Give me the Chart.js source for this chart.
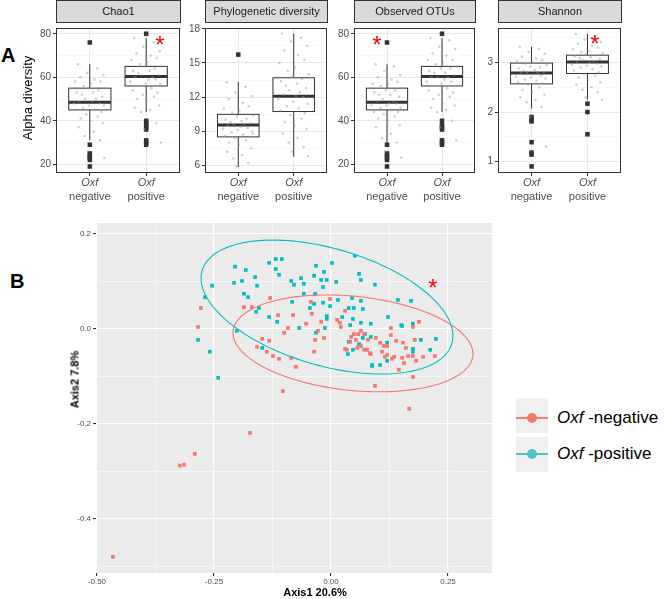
<!DOCTYPE html>
<html><head><meta charset="utf-8">
<script src="https://cdn.jsdelivr.net/npm/chart.js@4.4.1/dist/chart.umd.min.js"></script>
<style>
body{margin:0;background:#fff;width:668px;height:599px;position:relative;overflow:hidden;font-family:"Liberation Sans",Arial,sans-serif}
.abs{position:absolute}
canvas{position:absolute}
.strip{position:absolute;top:0;height:23px;background:#D9D9D9;border:1px solid #333;box-sizing:border-box;font-size:11px;color:#1A1A1A;text-align:center;line-height:21px;white-space:nowrap}
.star{position:absolute;width:20px;text-align:center;color:#FF0000;font-size:24px;line-height:24px}
</style></head><body>
<canvas id="f1" width="162" height="190" style="left:22px;top:20px"></canvas>
<canvas id="f2" width="160" height="190" style="left:171px;top:20px"></canvas>
<canvas id="f3" width="159" height="190" style="left:320px;top:20px"></canvas>
<canvas id="f4" width="161" height="190" style="left:464px;top:20px"></canvas>
<canvas id="pcoa" width="460" height="380" style="left:40px;top:215px"></canvas>

<div class="strip" style="left:56px;width:125px">Chao1</div>
<div class="strip" style="left:205px;width:123px">Phylogenetic diversity</div>
<div class="strip" style="left:354px;width:122px">Observed OTUs</div>
<div class="strip" style="left:498px;width:124px">Shannon</div>

<div class="abs" style="left:1px;top:45px;font-size:20px;line-height:20px;font-weight:bold">A</div>
<div class="abs" style="left:10px;top:271px;font-size:20px;line-height:20px;font-weight:bold">B</div>
<div class="abs" style="left:-32px;top:90px;width:120px;height:16px;line-height:16px;text-align:center;font-size:13px;transform:rotate(-90deg)">Alpha diversity</div>
<div class="abs" style="left:255px;top:586px;width:120px;line-height:13px;text-align:center;font-size:11px;font-weight:bold">Axis1 20.6%</div>
<div class="abs" style="left:15px;top:373px;width:120px;height:13px;line-height:13px;text-align:center;font-size:11px;font-weight:bold;transform:rotate(-90deg)">Axis2 7.8%</div>

<div class="star" style="left:150px;top:33px">*</div>
<div class="star" style="left:367px;top:33px">*</div>
<div class="star" style="left:585px;top:32px">*</div>
<div class="star" style="left:423px;top:276px">*</div>

<div class="abs" style="left:516px;top:398px;width:32px;height:35px;background:#F0F0F0"></div>
<div class="abs" style="left:516px;top:417px;width:32px;height:2px;background:#F07C70"></div>
<div class="abs" style="left:527px;top:413px;width:10px;height:10px;border-radius:5px;background:#F07C70"></div>
<div class="abs" style="left:557px;top:408px;font-size:17px;line-height:20px;color:#000;white-space:nowrap"><i>Oxf</i> -negative</div>
<div class="abs" style="left:516px;top:437px;width:32px;height:35px;background:#F0F0F0"></div>
<div class="abs" style="left:516px;top:453px;width:32px;height:2px;background:#4FC3C8"></div>
<div class="abs" style="left:527px;top:449px;width:10px;height:10px;border-radius:5px;background:#4FC3C8"></div>
<div class="abs" style="left:557px;top:444px;font-size:17px;line-height:20px;color:#000;white-space:nowrap"><i>Oxf</i> -positive</div>

<script>
// ---------- Panel A data ----------
const groupNames = ['negative','positive'];
const jitterX = [-0.21,0.13,-0.05,0.24,-0.17,0.08,0.19,-0.26,0.02,-0.11,0.27,-0.02,0.15,-0.23,0.06,-0.14,0.22,-0.08,0.11,-0.19,0.04,0.17,-0.28,-0.01,0.25,-0.12,0.09,-0.24,0.2,-0.06,0.14,-0.16,0.01,0.23,-0.2,0.07,-0.09,0.18,-0.03,0.26];

// box stats: [lower whisker, Q1, median, Q3, upper whisker]
const chaoNegBox = [31, 45, 48.5, 55, 66];
const chaoPosBox = [44, 56, 60.3, 65, 78];
const chaoNegOut = [76, 29, 25, 24, 23, 22, 19];
const chaoPosOut = [80, 40, 39, 38, 37, 36, 31, 30, 29];
const chaoNeg = [66,64,62,61,60,59,58,58,57,56,55,55,54,53,53,52,51,50,50,49,49,48,48,47,47,46,45,45,44,43,42,41,40,39,37,35,33,31,26,23];
const chaoPos = [78,76,74,72,71,70,69,68,67,66,65,65,64,63,63,62,61,61,60,60,59,59,58,57,57,56,55,54,53,52,51,50,49,47,46,45,44,39,36,30];

const phyNegBox = [5.85, 8.5, 9.55, 10.48, 13.35];
const phyPosBox = [6.75, 10.73, 12.08, 13.7, 17.6];
const phyNegOut = [15.74];
const phyPosOut = [];
const phyNeg = [13.3,12.9,12.4,12.1,11.8,11.5,11.2,11.0,10.8,10.6,10.4,10.3,10.1,10.0,9.9,9.8,9.7,9.6,9.6,9.5,9.4,9.3,9.2,9.1,9.0,8.9,8.7,8.6,8.5,8.4,8.2,8.0,7.8,7.5,7.2,6.9,6.6,6.2,5.9,8.8];
const phyPos = [17.6,17.2,16.9,16.5,16.1,15.7,15.3,15.0,14.6,14.3,14.0,13.8,13.6,13.4,13.2,13.0,12.8,12.6,12.4,12.2,12.1,12.0,11.8,11.6,11.4,11.2,11.0,10.8,10.6,10.4,10.1,9.8,9.5,9.2,8.8,8.4,8.0,7.6,7.2,6.8];

const obsNegBox = [30, 45, 48.5, 55, 66];
const obsPosBox = [44, 56, 60.3, 65, 78];
const obsNegOut = [76, 29, 25, 24, 23, 22, 19];
const obsPosOut = [80, 40, 38, 37, 36, 31, 30, 29];
const obsNeg = [66,65,63,61,60,59,58,57,57,56,55,54,54,53,52,52,51,50,49,49,48,48,47,47,46,46,45,44,44,43,42,41,40,38,37,34,32,30,26,23];
const obsPos = [78,77,74,73,71,70,68,68,67,66,65,64,64,63,62,62,61,60,60,60,59,58,58,57,56,56,55,54,53,52,51,50,48,47,46,45,44,40,37,31];

const shaNegBox = [2.07, 2.57, 2.79, 2.99, 3.32];
const shaPosBox = [2.25, 2.78, 3.01, 3.15, 3.58];
const shaNegOut = [1.90, 1.85, 1.81, 1.39, 1.18, 1.14, 0.90];
const shaPosOut = [2.17, 2.00, 1.55];
const shaNeg = [3.32,3.28,3.22,3.18,3.12,3.08,3.05,3.02,3.0,2.98,2.95,2.92,2.9,2.88,2.85,2.83,2.81,2.8,2.79,2.78,2.76,2.74,2.72,2.7,2.68,2.66,2.63,2.6,2.58,2.55,2.5,2.45,2.4,2.35,2.3,2.25,2.2,2.1,1.9,1.3];
const shaPos = [3.58,3.52,3.47,3.42,3.38,3.34,3.3,3.27,3.24,3.21,3.19,3.17,3.15,3.13,3.11,3.09,3.07,3.05,3.03,3.02,3.0,2.98,2.96,2.94,2.92,2.9,2.87,2.84,2.8,2.77,2.73,2.7,2.65,2.6,2.55,2.5,2.45,2.4,2.3,2.25];

const chaoTicks = [20,30,40,50,60,70,80], chaoMajor = [20,40,60,80];
const phyTicks = [6,7.5,9,10.5,12,13.5,15,16.5,18], phyMajor = [6,9,12,15,18];
const shaTicks = [1,1.5,2,2.5,3,3.5], shaMajor = [1,2,3];

// ---------- Panel B data ----------
const negAxis1 = [-0.278,-0.186,-0.169,-0.284,-0.147,-0.158,-0.173,-0.466,-0.323,-0.314,-0.291,0.167,-0.130,-0.113,-0.081,-0.041,-0.043,-0.002,0.030,0.013,0.019,0.021,-0.021,-0.053,-0.092,-0.100,-0.028,-0.034,-0.015,-0.132,-0.137,-0.124,-0.111,-0.085,-0.075,-0.036,-0.103,0.049,0.058,0.064,0.071,0.043,0.041,0.053,0.030,0.034,0.056,0.064,0.071,0.079,0.077,0.083,0.188,0.175,0.128,0.128,0.096,0.139,0.179,0.105,0.113,0.120,0.154,0.160,0.085,0.109,0.120,0.115,0.130,0.135,0.152,0.165,0.175,0.197,0.222,0.182,0.156,0.145,0.175,0.094];
const negAxis2 = [0.044,0.046,0.046,0.004,-0.021,-0.038,-0.219,-0.480,-0.288,-0.286,-0.263,-0.168,0.065,0.029,0.029,0.032,0.057,0.063,0.038,0.019,0.013,0.004,0.015,0.011,0.002,-0.008,-0.004,-0.023,-0.019,-0.025,-0.048,-0.057,-0.063,-0.061,-0.080,-0.048,-0.131,-0.011,-0.011,-0.004,-0.011,-0.017,-0.027,-0.023,-0.042,-0.044,-0.040,-0.036,-0.044,-0.023,-0.044,-0.051,0.015,0.004,0.002,-0.013,-0.019,-0.025,-0.023,-0.029,-0.036,-0.036,-0.029,-0.040,-0.053,-0.048,-0.055,-0.059,-0.063,-0.059,-0.061,-0.057,-0.057,-0.059,-0.057,-0.067,-0.072,-0.086,-0.101,-0.120];
const posAxis1 = [-0.205,-0.182,-0.162,-0.207,-0.190,-0.158,-0.254,-0.269,-0.186,-0.177,-0.160,-0.154,-0.201,-0.284,-0.259,-0.241,-0.147,-0.132,-0.118,-0.105,-0.118,-0.111,-0.085,-0.079,-0.064,-0.058,-0.032,-0.036,-0.015,-0.021,-0.009,-0.017,0.002,0.011,0.051,0.060,0.064,-0.058,-0.045,-0.036,-0.034,-0.017,-0.002,0.015,0.045,0.064,0.038,0.049,0.068,0.024,-0.009,-0.009,0.047,0.041,0.064,0.085,-0.083,-0.132,-0.115,-0.068,-0.032,-0.013,0.038,0.047,0.036,0.060,0.068,0.073,0.088,0.094,0.143,0.171,0.122,0.150,0.152,0.175,0.085,0.120,0.192,0.224,0.212,0.175,0.175,0.088,0.105,0.120];
const posAxis2 = [0.131,0.124,0.109,0.097,0.101,0.091,0.091,0.067,0.074,0.067,0.036,0.044,-0.004,-0.023,-0.048,-0.103,-0.040,0.139,0.147,0.147,0.126,0.114,0.101,0.093,0.107,0.095,0.133,0.112,0.120,0.103,0.103,0.088,0.139,0.099,0.154,0.116,0.103,0.074,0.044,0.053,0.074,0.055,0.048,0.061,0.065,0.059,0.044,0.044,0.042,0.025,0.027,0.021,0.021,0.008,0.013,0.011,0.057,0.025,0.015,0.002,-0.008,0.002,-0.027,-0.044,-0.053,-0.032,-0.019,-0.011,-0.078,0.093,0.061,0.059,0.025,0.008,0.006,0.011,-0.017,-0.029,-0.023,-0.021,-0.044,-0.042,-0.048,-0.076,-0.076,-0.067];
// 95% ellipses: [centre x, centre y, axis-u dx, axis-u dy, axis-v dx, axis-v dy] in data units
const negEllipse = [0.047, -0.0305, 0.2561, -0.0261, -0.0103, -0.0986];
const posEllipse = [-0.0085, 0.046, 0.2667, -0.0768, -0.0351, -0.1183];
const xTicksB = [-0.5,-0.375,-0.25,-0.125,0,0.125,0.25];
const yTicksB = [-0.5,-0.4,-0.3,-0.2,-0.1,0,0.1,0.2];

const RED = '#F8766D', CYAN = '#00BFC4';
Chart.defaults.font.family = '"Liberation Sans", Arial, sans-serif';

// ---------- plugins ----------
const boxPlugin = {
  id: 'boxes',
  beforeDatasetsDraw(chart, args, opts) {
    const xs = chart.scales.x, ys = chart.scales.y, ctx = chart.ctx;
    (opts.items || []).forEach(([xv, b]) => {
      const xc = xs.getPixelForValue(xv);
      const hw = xs.getPixelForValue(xv + 0.375) - xc;
      const yLo = ys.getPixelForValue(b[0]), yQ1 = ys.getPixelForValue(b[1]), yMed = ys.getPixelForValue(b[2]),
            yQ3 = ys.getPixelForValue(b[3]), yHi = ys.getPixelForValue(b[4]);
      ctx.save();
      ctx.strokeStyle = '#333'; ctx.lineWidth = 1;
      ctx.beginPath();
      ctx.moveTo(xc, yQ3); ctx.lineTo(xc, yHi);
      ctx.moveTo(xc, yQ1); ctx.lineTo(xc, yLo);
      ctx.stroke();
      ctx.fillStyle = '#fff';
      ctx.fillRect(xc - hw, yQ3, 2 * hw, yQ1 - yQ3);
      ctx.strokeRect(xc - hw, yQ3, 2 * hw, yQ1 - yQ3);
      ctx.lineWidth = 3;
      ctx.beginPath(); ctx.moveTo(xc - hw, yMed); ctx.lineTo(xc + hw, yMed); ctx.stroke();
      ctx.restore();
    });
  }
};
const xLabelPlugin = {
  id: 'xlabels',
  afterDraw(chart) {
    const xs = chart.scales.x, ctx = chart.ctx, b = chart.chartArea.bottom;
    ctx.save();
    ctx.textAlign = 'center'; ctx.textBaseline = 'middle'; ctx.fillStyle = '#4D4D4D';
    groupNames.forEach((g, i) => {
      const x = xs.getPixelForValue(i + 1);
      ctx.font = 'italic 11px "Liberation Sans", Arial, sans-serif';
      ctx.fillText('Oxf', x, b + 10);
      ctx.font = '11px "Liberation Sans", Arial, sans-serif';
      ctx.fillText(g, x, b + 24);
    });
    ctx.restore();
  }
};
const framePlugin = {
  id: 'frame',
  afterDraw(chart) {
    const a = chart.chartArea, ctx = chart.ctx;
    ctx.save(); ctx.strokeStyle = '#333'; ctx.lineWidth = 1;
    ctx.strokeRect(Math.round(a.left) + 0.5, Math.round(a.top) + 0.5, Math.round(a.right - a.left) - 1, Math.round(a.bottom - a.top) - 1);
    ctx.restore();
  }
};

function makeFacet(id, negVals, posVals, negBox, posBox, negOut, posOut, yMin, yMax, yTickVals, yMajorVals) {
  const jit = (vals, xc) => vals.map((v, i) => ({ x: xc + jitterX[i % jitterX.length], y: v }));
  const out = (vals, xc) => vals.map(v => ({ x: xc, y: v }));
  const isMajor = v => yMajorVals.includes(v);
  new Chart(document.getElementById(id), {
    type: 'scatter',
    data: { datasets: [
      { data: [...jit(negVals, 1), ...jit(posVals, 2)], pointRadius: 1.3, backgroundColor: 'rgba(150,150,150,0.45)', borderWidth: 0 },
      { data: [...out(negOut, 1), ...out(posOut, 2)], pointStyle: 'rect', pointRadius: 3.2, backgroundColor: '#333', borderWidth: 0 }
    ] },
    options: {
      responsive: false, animation: false, devicePixelRatio: 1,
      layout: { padding: { top: 2, right: 4, left: 0, bottom: 0 } },
      plugins: { legend: { display: false }, tooltip: { enabled: false },
        boxes: { items: [[1, negBox], [2, posBox]] } },
      scales: {
        x: { type: 'linear', min: 0.4, max: 2.6,
          afterBuildTicks: s => { s.ticks = [{ value: 1 }, { value: 2 }]; },
          afterFit: s => { s.height = 37; },
          ticks: { callback: () => '' },
          grid: { color: '#E8E8E8', tickLength: 3, tickColor: '#333' },
          border: { display: false } },
        y: { min: yMin, max: yMax,
          afterBuildTicks: s => { s.ticks = yTickVals.map(v => ({ value: v })); },
          afterFit: s => { s.width = 34; },
          ticks: { font: { size: 10 }, color: '#4D4D4D', padding: 2,
            callback: v => isMajor(v) ? String(v) : '' },
          grid: { color: c => isMajor(c.tick.value) ? '#E8E8E8' : '#F3F3F3',
                  lineWidth: c => isMajor(c.tick.value) ? 1 : 0.6,
                  tickColor: c => isMajor(c.tick.value) ? '#333' : 'rgba(0,0,0,0)', tickLength: 3 },
          border: { display: false } }
      }
    },
    plugins: [boxPlugin, xLabelPlugin, framePlugin]
  });
}

makeFacet('f1', chaoNeg, chaoPos, chaoNegBox, chaoPosBox, chaoNegOut, chaoPosOut, 16, 82.65, chaoTicks, chaoMajor);
makeFacet('f2', phyNeg, phyPos, phyNegBox, phyPosBox, phyNegOut, phyPosOut, 5.32, 18.08, phyTicks, phyMajor);
makeFacet('f3', obsNeg, obsPos, obsNegBox, obsPosBox, obsNegOut, obsPosOut, 16, 82.65, chaoTicks, chaoMajor);
makeFacet('f4', shaNeg, shaPos, shaNegBox, shaPosBox, shaNegOut, shaPosOut, 0.767, 3.70, shaTicks, shaMajor);

// ---------- Panel B ----------
const bgPlugin = {
  id: 'bg',
  beforeDraw(chart) {
    const a = chart.chartArea, ctx = chart.ctx;
    ctx.save(); ctx.fillStyle = '#EBEBEB';
    ctx.fillRect(a.left, a.top, a.right - a.left, a.bottom - a.top);
    ctx.restore();
  }
};
const ellipsePlugin = {
  id: 'ellipses',
  afterDatasetsDraw(chart) {
    const xs = chart.scales.x, ys = chart.scales.y, ctx = chart.ctx;
    [[negEllipse, RED], [posEllipse, CYAN]].forEach(([e, col]) => {
      ctx.save(); ctx.beginPath();
      for (let k = 0; k <= 180; k++) {
        const t = k / 180 * 2 * Math.PI;
        const x = e[0] + e[2] * Math.cos(t) + e[4] * Math.sin(t);
        const y = e[1] + e[3] * Math.cos(t) + e[5] * Math.sin(t);
        const px = xs.getPixelForValue(x), py = ys.getPixelForValue(y);
        if (k === 0) ctx.moveTo(px, py); else ctx.lineTo(px, py);
      }
      ctx.strokeStyle = col; ctx.lineWidth = 1.1; ctx.stroke(); ctx.restore();
    });
  }
};
const isMajX = v => Math.abs(v * 4 - Math.round(v * 4)) < 1e-9;
const isMajY = v => Math.abs(v * 5 - Math.round(v * 5)) < 1e-9;
new Chart(document.getElementById('pcoa'), {
  type: 'scatter',
  data: { datasets: [
    { label: 'Oxf -negative', data: negAxis1.map((x, i) => ({ x, y: negAxis2[i] })), pointStyle: 'rect', pointRadius: 2.6, backgroundColor: RED, borderWidth: 0 },
    { label: 'Oxf -positive', data: posAxis1.map((x, i) => ({ x, y: posAxis2[i] })), pointStyle: 'rect', pointRadius: 2.6, backgroundColor: CYAN, borderWidth: 0 }
  ] },
  options: {
    responsive: false, animation: false, devicePixelRatio: 1,
    layout: { padding: { top: 8, right: 8, left: 0, bottom: 0 } },
    plugins: { legend: { display: false }, tooltip: { enabled: false } },
    scales: {
      x: { type: 'linear', min: -0.502, max: 0.344,
        afterBuildTicks: s => { s.ticks = xTicksB.map(v => ({ value: v })); },
        afterFit: s => { s.height = 22; },
        ticks: { font: { size: 8 }, color: '#4D4D4D', padding: 1, maxRotation: 0,
          callback: v => isMajX(v) ? v.toFixed(2) : '' },
        grid: { color: '#FFFFFF', lineWidth: c => isMajX(c.tick.value) ? 1.1 : 0.5,
                tickColor: c => isMajX(c.tick.value) ? '#333' : 'rgba(0,0,0,0)', tickLength: 3 },
        border: { display: false } },
      y: { type: 'linear', min: -0.514, max: 0.223,
        afterBuildTicks: s => { s.ticks = yTicksB.map(v => ({ value: v })); },
        afterFit: s => { s.width = 56; },
        ticks: { font: { size: 8 }, color: '#4D4D4D', padding: 2,
          callback: v => isMajY(v) ? v.toFixed(1) : '' },
        grid: { color: '#FFFFFF', lineWidth: c => isMajY(c.tick.value) ? 1.1 : 0.5,
                tickColor: c => isMajY(c.tick.value) ? '#333' : 'rgba(0,0,0,0)', tickLength: 3 },
        border: { display: false } }
    }
  },
  plugins: [bgPlugin, ellipsePlugin]
});
</script>
</body></html>
